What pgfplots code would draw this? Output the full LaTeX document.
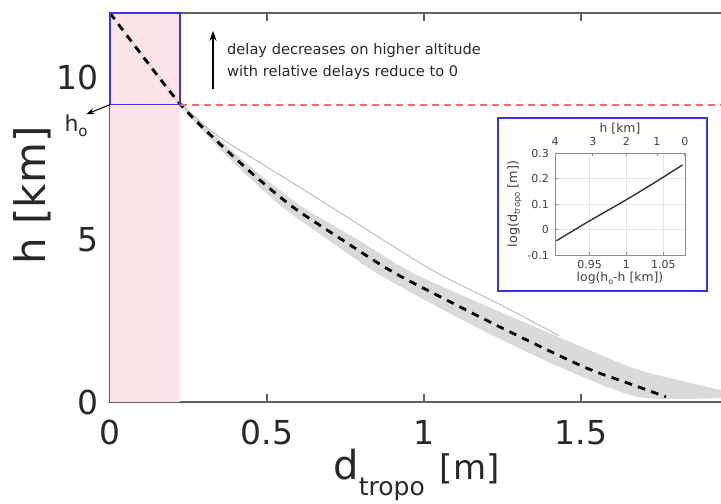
\documentclass[border=0pt]{standalone}
\usepackage{pgfplots}
\pgfplotsset{compat=1.18}
\usepackage{fontspec}
\setmainfont{DejaVu Sans}
\setsansfont{DejaVu Sans}
\usetikzlibrary{arrows.meta}

\definecolor{pinkfill}{RGB}{253,226,230}
\definecolor{bandgray}{RGB}{218,218,218}
\definecolor{thingray}{RGB}{190,190,190}
\definecolor{axgray}{RGB}{95,95,95}
\definecolor{reddash}{RGB}{240,110,115}
\definecolor{boxblue}{RGB}{55,55,225}
\definecolor{txt}{RGB}{40,40,40}

\begin{document}
\begin{tikzpicture}[x=1pt,y=1pt]
\useasboundingbox (-55,-50.5) rectangle (305.5,201);
\clip (-55,-50.5) rectangle (305.5,201);
\begin{axis}[
  at={(0pt,0pt)}, anchor=south west,
  scale only axis, width=315pt, height=194.5pt,
  xmin=0, xmax=2.006, ymin=0, ymax=12,
  xtick={0,0.5,1,1.5}, ytick={0,5,10},
  tick align=inside, major tick length=4pt,
  axis line style={axgray, line width=0.6pt},
  tick style={axgray, line width=0.6pt},
  /pgf/number format/assume math mode=true,
  ticklabel style={font=\fontsize{16.5}{18}\selectfont, text=txt},
  xticklabel style={yshift=-5.5pt},
  yticklabel style={xshift=-2pt},
  clip=false,
  xlabel={{\fontsize{20}{20}\selectfont d}\raisebox{-8pt}{\fontsize{12.5}{13}\selectfont tropo}\hspace{7.5pt}{\fontsize{17}{17}\selectfont [m]}},
  xlabel style={at={(rel axis cs:0.354,-0.2)}, anchor=base west, text=txt, inner sep=0pt},
  ylabel={h [km]},
  ylabel style={at={(rel axis cs:-0.1024,0.531)}, anchor=base, font=\fontsize{21}{24}\selectfont, text=txt},
]
% pink region
\addplot[fill=pinkfill, draw=none] coordinates {(0,0) (0.223,0) (0.223,12) (0,12)} -- cycle;
% grey spread of profiles (right envelope, then left envelope back up)
\addplot[fill=bandgray, draw=none, smooth, tension=0.4] coordinates {
 (0,12) (0.083,11) (0.166,10) (0.232,9.17) (0.36,8) (0.48,7) (0.615,6) (0.79,5)
 (0.96,4) (1.19,3) (1.43,2) (1.68,1) (1.946,0.37) (2.006,0.24)
 (2.006,0.14) (1.69,0.14)
 (1.45,1) (1.23,2) (1.03,3) (0.845,4) (0.695,5) (0.55,6) (0.435,7) (0.33,8)
 (0.22,9.17) (0.155,10) (0.075,11) (0,12)} -- cycle;
% single thin profile
\addplot[thingray, line width=0.5pt, smooth] coordinates {
 (0.23,9.17) (0.33,8.3) (0.45,7.55) (0.6,6.65) (0.764,5.65) (1.02,4.1) (1.24,3.02) (1.43,2.04)};
% mean profile
\addplot[black, line width=1.4pt, dash pattern=on 3.8pt off 3.2pt, smooth] coordinates {
 (0,12) (0.10,10.72) (0.228,9.14) (0.350,7.96) (0.467,6.93) (0.583,6.01) (0.710,5.19)
 (0.892,4.06) (1.083,3.09) (1.27,2.18) (1.507,1.09) (1.65,0.58) (1.77,0.16)};
% h_o level
\addplot[reddash, line width=0.8pt, dash pattern=on 3.5pt off 2.5pt] coordinates {(0.223,9.17) (2.006,9.17)};
\addplot[boxblue, line width=0.6pt] coordinates {(0,9.17) (0.223,9.17) (0.223,12) (0,12)} -- cycle;
% annotations
\draw[-{Stealth[length=5pt,width=3.5pt]}, black, line width=0.6pt] (axis cs:0.328,9.66) -- (axis cs:0.328,11.45);
\node[anchor=west, align=left, font=\fontsize{7.3}{11}\selectfont, text=txt, inner sep=0pt] at (axis cs:0.372,10.5)
  {delay decreases on higher altitude\\with relative delays reduce to 0};
\draw[-{Stealth[length=4pt,width=3pt]}, black, line width=0.5pt] (axis cs:0,9.17) -- (axis cs:-0.075,8.88);
\node[font=\fontsize{11}{12}\selectfont, text=txt] at (axis cs:-0.108,8.52) {h\raisebox{-2.5pt}{\fontsize{7.5}{8}\selectfont o}};
\end{axis}

% inset frame
\draw[boxblue, line width=1.3pt, fill=white] (194pt,55.5pt) rectangle (298.5pt,142pt);

\begin{axis}[
  at={(222.5pt,73.5pt)}, anchor=south west,
  scale only axis, width=65pt, height=51pt,
  xmin=0.903, xmax=1.0795, ymin=-0.1, ymax=0.3,
  xtick={0.95,1,1.05}, ytick={-0.1,0,0.1,0.2,0.3},
  xtick pos=bottom, ytick pos=left,
  grid=major, grid style={black!10, line width=0.3pt},
  tick align=inside, major tick length=1.5pt,
  axis line style={black!45, line width=0.4pt},
  tick style={black!45, line width=0.4pt},
  /pgf/number format/assume math mode=true,
  ticklabel style={font=\fontsize{5.5}{6}\selectfont, text=black!75},
  xticklabel style={yshift=1pt},
  yticklabel style={xshift=0.5pt},
  xlabel={log(h\raisebox{-1.5pt}{\fontsize{4}{4}\selectfont o}-h [km])},
  xlabel style={font=\fontsize{6.2}{6}\selectfont, text=black!75, yshift=5pt},
  ylabel={log(d\raisebox{-1.5pt}{\fontsize{4.2}{4}\selectfont tropo} [m])},
  ylabel style={font=\fontsize{6.4}{6}\selectfont, text=black!75, yshift=-4pt},
]
\addplot[black!80, line width=0.7pt, smooth] coordinates {
 (0.905,-0.044) (0.95,0.034) (1.0,0.117) (1.04,0.187) (1.076,0.253)};
\end{axis}
\begin{axis}[
  at={(222.5pt,73.5pt)}, anchor=south west,
  scale only axis, width=65pt, height=51pt,
  xmin=0.903, xmax=1.0795, ymin=-0.1, ymax=0.3,
  axis x line*=top, axis y line=none,
  xtick={0.90309,0.95424,1,1.04139,1.07918}, xticklabels={4,3,2,1,0},
  tick align=inside, major tick length=1.5pt,
  axis line style={black!45, line width=0.4pt},
  tick style={black!45, line width=0.4pt},
  /pgf/number format/assume math mode=true,
  ticklabel style={font=\fontsize{5.5}{6}\selectfont, text=black!75},
  xlabel={h [km]},
  xlabel style={font=\fontsize{6.2}{6}\selectfont, text=black!75, yshift=-5pt},
]
\addplot[draw=none] coordinates {(1,0)};
\end{axis}
\end{tikzpicture}
\end{document}
